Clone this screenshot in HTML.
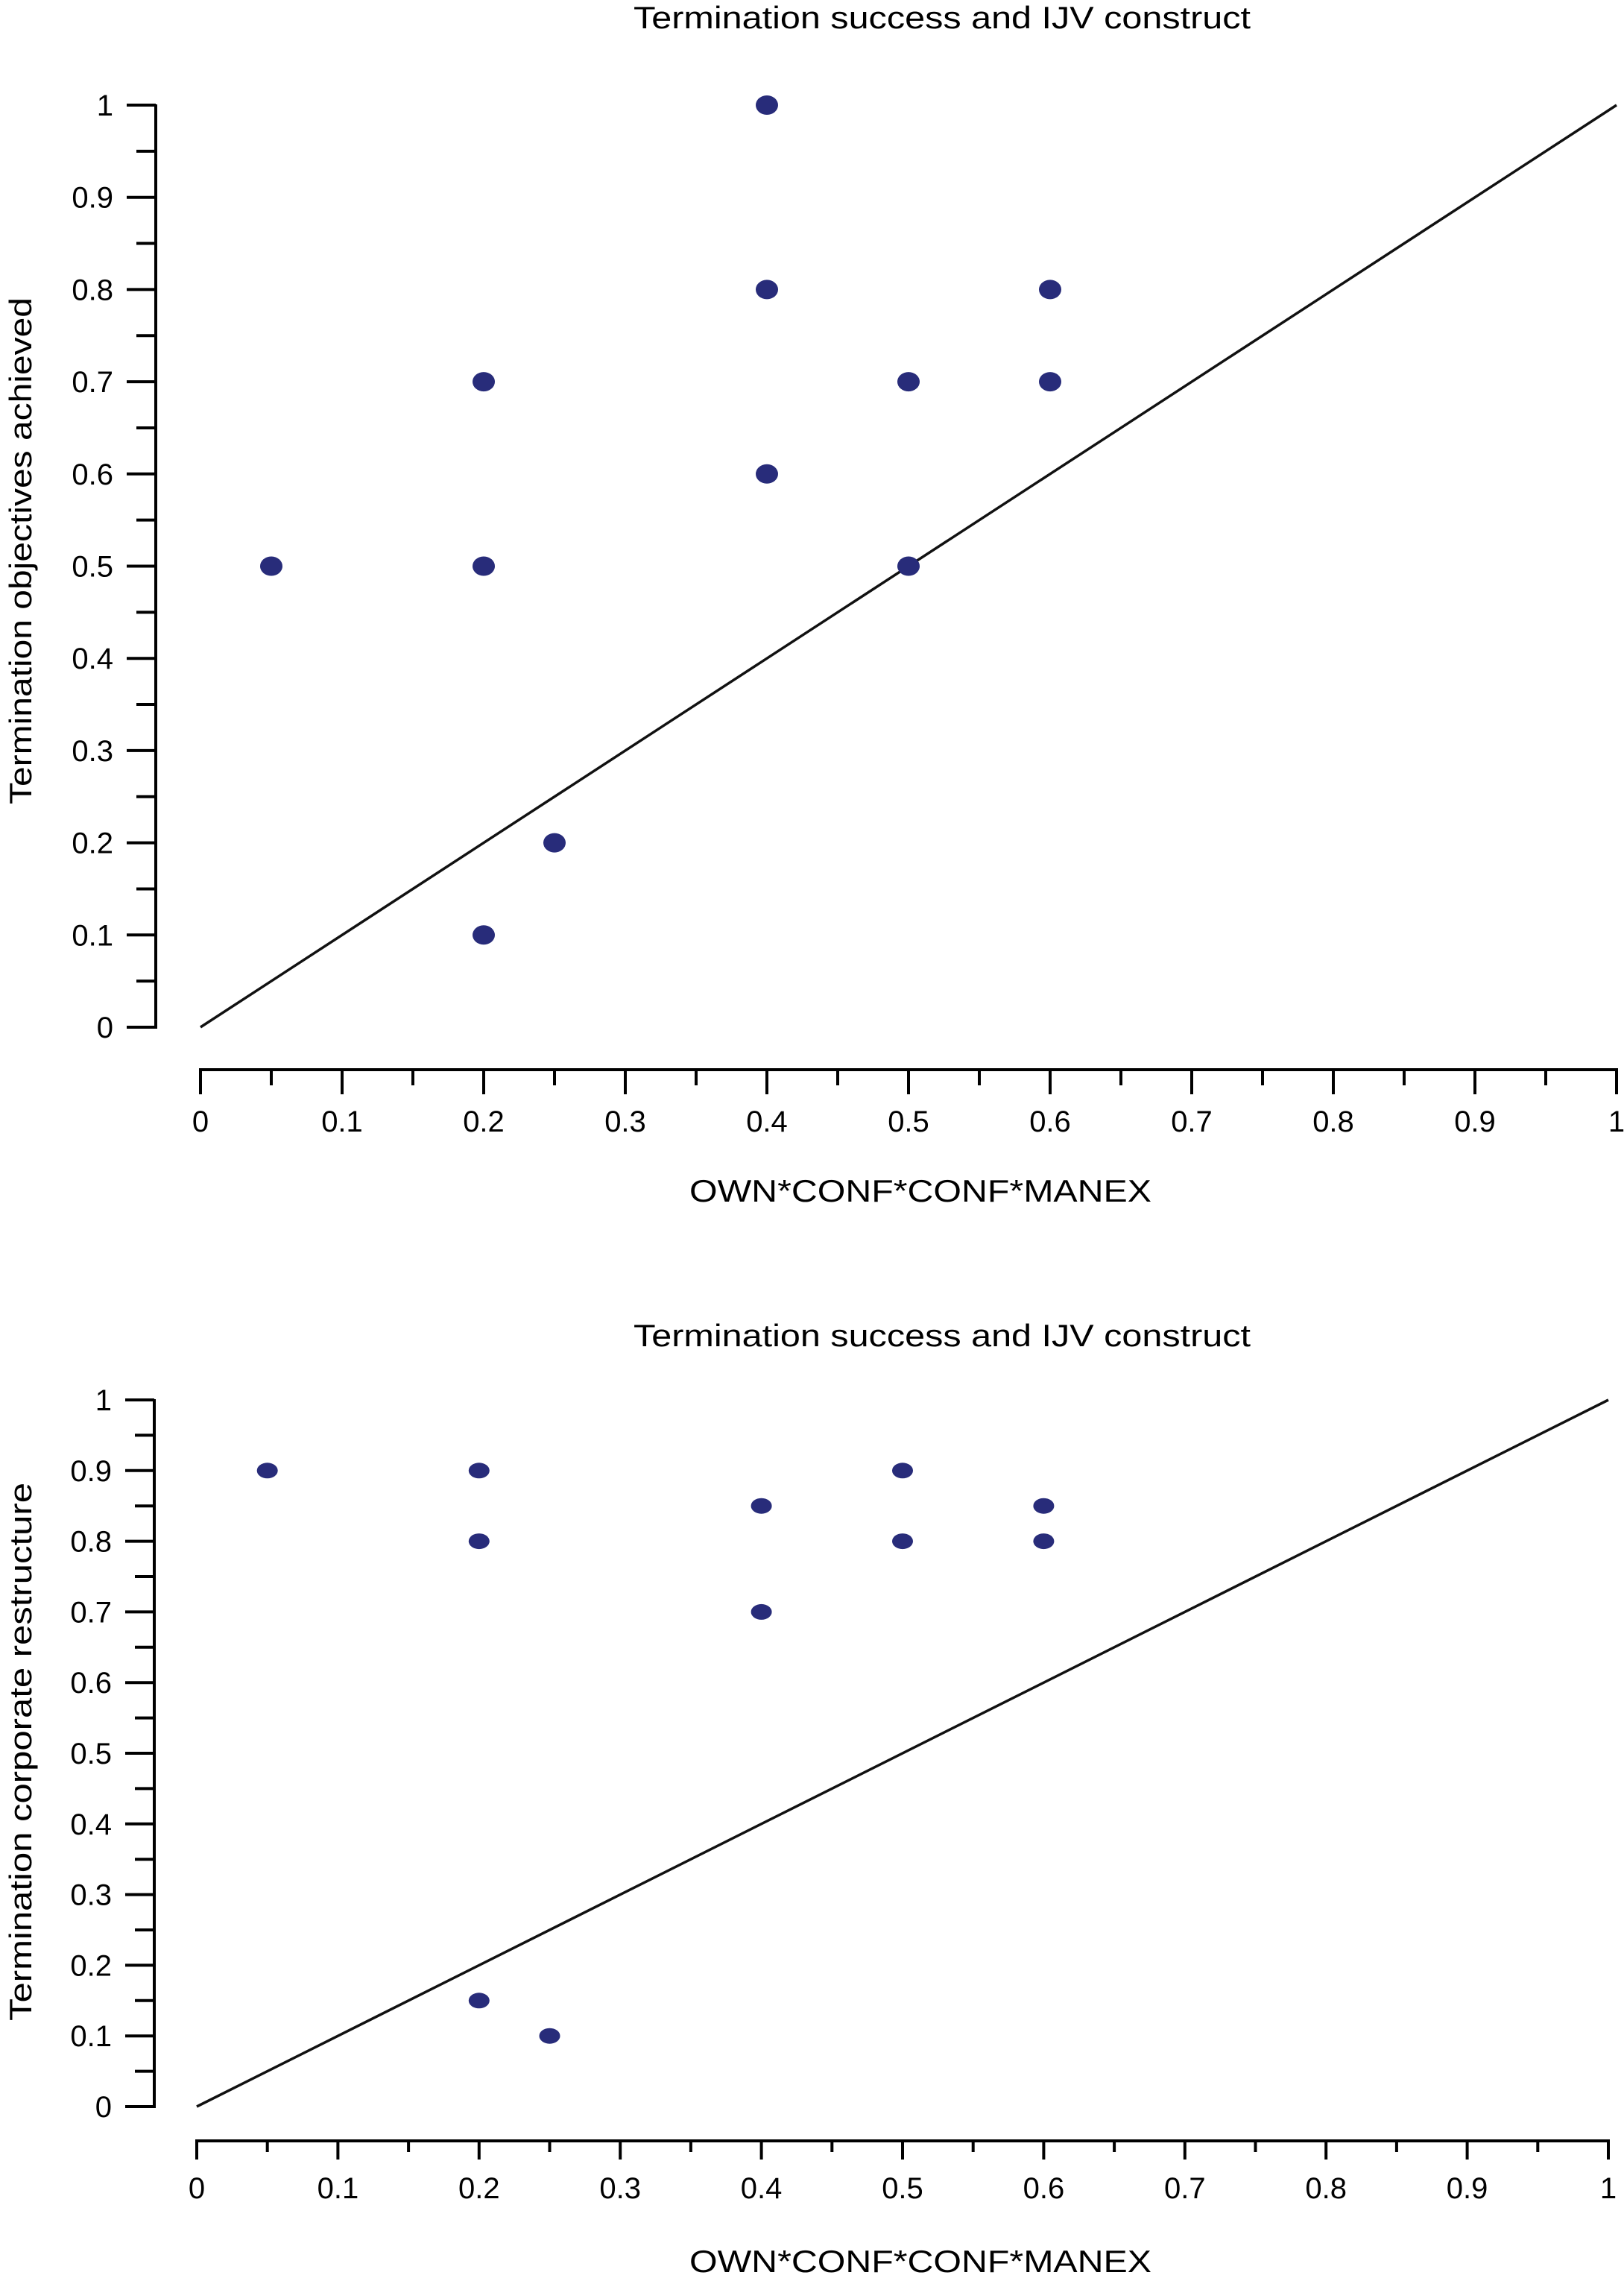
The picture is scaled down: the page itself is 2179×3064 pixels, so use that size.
<!DOCTYPE html>
<html><head><meta charset="utf-8"><style>
html,body{margin:0;padding:0;background:#fff;}
svg{display:block;}
text{font-family:"Liberation Sans",Arial,sans-serif;fill:#000;}
</style></head>
<body>
<svg id="fig" width="2179" height="3064" viewBox="0 0 2179 3064" xmlns="http://www.w3.org/2000/svg"></svg>
<script>
const tickValues = [0,0.1,0.2,0.3,0.4,0.5,0.6,0.7,0.8,0.9,1];
const tickLabels = ["0","0.1","0.2","0.3","0.4","0.5","0.6","0.7","0.8","0.9","1"];
const topX = [0.05,0.2,0.2,0.2,0.25,0.4,0.4,0.4,0.5,0.5,0.6,0.6];
const topY = [0.5,0.7,0.5,0.1,0.2,1.0,0.8,0.6,0.7,0.5,0.8,0.7];
const botX = [0.05,0.2,0.2,0.2,0.25,0.4,0.4,0.5,0.5,0.6,0.6];
const botY = [0.9,0.9,0.8,0.15,0.1,0.85,0.7,0.9,0.8,0.85,0.8];
const refLine = [0,1];

const NS = "http://www.w3.org/2000/svg";
const svg = document.getElementById('fig');
function mk(tag, attrs, parent){
  const e = document.createElementNS(NS, tag);
  for (const k in attrs) e.setAttribute(k, attrs[k]);
  (parent||svg).appendChild(e);
  return e;
}

function chart(cfg){
  const g = mk('g', {});
  
  
  const sx = v => cfg.x0 + v*(cfg.x1-cfg.x0);
  const sy = v => cfg.y0 - v*(cfg.y0-cfg.y1);

  const t = mk('text', {x:1264, y:cfg.titleY, 'text-anchor':'middle', 'font-size':42, textLength:828, lengthAdjust:'spacingAndGlyphs'}, g);
  t.textContent = 'Termination success and IJV construct';
  
  

  const ya = mk('line', {x1:cfg.ax, y1:sy(1)-1, x2:cfg.ax, y2:sy(0)+2, stroke:'#000', 'stroke-width':4}, g);
  
  
  for (let i=0;i<tickValues.length;i++){
    const y = sy(tickValues[i]);
    const tk = mk('line', {x1:cfg.ax-39, y1:y, x2:cfg.ax, y2:y, stroke:'#000', 'stroke-width':4}, g);
    
    
    const lb = mk('text', {x:cfg.ax-57, y:y+14, 'text-anchor':'end', 'font-size':40}, g);
    lb.textContent = tickLabels[i];
    
    
    if (i < tickValues.length-1){
      const ym = sy(tickValues[i]+0.05);
      const mt = mk('line', {x1:cfg.ax-26, y1:ym, x2:cfg.ax, y2:ym, stroke:'#000', 'stroke-width':4}, g);
      
      
    }
  }
  const xa = mk('line', {x1:sx(0)-2, y1:cfg.ay, x2:sx(1)+2, y2:cfg.ay, stroke:'#000', 'stroke-width':4}, g);
  
  
  for (let i=0;i<tickValues.length;i++){
    const x = sx(tickValues[i]);
    const tk = mk('line', {x1:x, y1:cfg.ay, x2:x, y2:cfg.ay+cfg.maj, stroke:'#000', 'stroke-width':4}, g);
    
    
    const lb = mk('text', {x:x, y:cfg.labY, 'text-anchor':'middle', 'font-size':40}, g);
    lb.textContent = tickLabels[i];
    
    
    if (i < tickValues.length-1){
      const xm = sx(tickValues[i]+0.05);
      const mt = mk('line', {x1:xm, y1:cfg.ay, x2:xm, y2:cfg.ay+cfg.mnr, stroke:'#000', 'stroke-width':4}, g);
      
      
    }
  }
  const xt = mk('text', {x:1235, y:cfg.xTitleY, 'text-anchor':'middle', 'font-size':42, textLength:620, lengthAdjust:'spacingAndGlyphs'}, g);
  xt.textContent = 'OWN*CONF*CONF*MANEX';
  
  
  const yt = mk('text', {x:0, y:0, 'text-anchor':'middle', 'font-size':42, textLength:cfg.yTitleLen, lengthAdjust:'spacingAndGlyphs', transform:'translate(42,'+cfg.yTitleC+') rotate(-90)'}, g);
  yt.textContent = cfg.yTitle;
  
  

  const rl = mk('line', {x1:sx(refLine[0]), y1:sy(refLine[0]), x2:sx(refLine[1]), y2:sy(refLine[1]), stroke:'#111', 'stroke-width':3.5}, g);
  
  

  for (let i=0;i<cfg.xs.length;i++){
    const d = mk('ellipse', {cx:sx(cfg.xs[i]), cy:sy(cfg.ys[i]), rx:cfg.rx, ry:cfg.ry, fill:'#282c7a'}, g);
    
    
  }
}

chart({name:'top-chart', x0:269, x1:2169, y0:1378, y1:141, ax:209, ay:1435, maj:33, mnr:21, labY:1518, titleY:38, xTitleY:1612, yTitle:'Termination objectives achieved', yTitleC:739, yTitleLen:680, xs:topX, ys:topY, rx:15, ry:13});
chart({name:'bottom-chart', x0:264, x1:2158, y0:2826, y1:1878, ax:207, ay:2872, maj:25, mnr:15, labY:2949, titleY:1806, xTitleY:3048, yTitle:'Termination corporate restructure', yTitleC:2350, yTitleLen:722, xs:botX, ys:botY, rx:14, ry:10.5});
</script>
</body></html>
